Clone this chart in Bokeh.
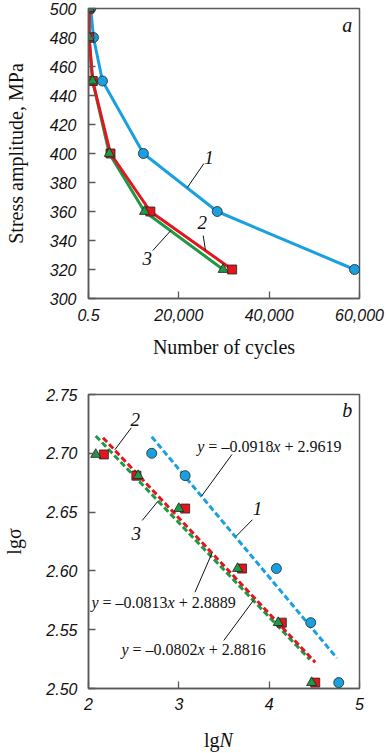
import numpy as np
from bokeh.plotting import figure
from bokeh.models import Range1d, FixedTicker, Label, Div
from bokeh.layouts import column
from bokeh.embed import file_html
from bokeh.resources import INLINE

# ---------------- Panel a data ----------------
stress_a = [500, 480, 450, 400, 360, 320]
cycles_1 = [500, 1100, 3100, 12150, 28500, 58900]
cycles_2 = [200, 150, 940, 4870, 13700, 31800]
cycles_3 = [150, 120, 900, 4600, 12400, 29800]
x_ticks_a = [0, 20000, 40000, 60000]
x_tick_labels_a = ["0.5", "20,000", "40,000", "60,000"]
y_ticks_a = [300, 320, 340, 360, 380, 400, 420, 440, 460, 480, 500]

# ---------------- Panel b data ----------------
lg_sigma_1 = [2.700, 2.681, 2.602, 2.556, 2.505]
lg_n_1 = [2.70, 3.07, 4.08, 4.46, 4.77]
lg_sigma_23 = [2.699, 2.681, 2.653, 2.602, 2.556, 2.505]
lg_n_2 = [2.17, 2.53, 3.07, 3.70, 4.14, 4.51]
lg_n_3 = [2.08, 2.55, 3.00, 3.65, 4.10, 4.47]
fit_slope = [-0.0918, -0.0813, -0.0802]
fit_intercept = [2.9619, 2.8889, 2.8816]
fit_x_start = [2.70, 2.16, 2.08]
fit_x_end = [4.75, 4.51, 4.45]
x_ticks_b = [2, 3, 4, 5]
y_ticks_b = [2.50, 2.55, 2.60, 2.65, 2.70, 2.75]
y_tick_labels_b = ["2.50", "2.55", "2.60", "2.65", "2.70", "2.75"]

# ---------------- Styles ----------------
BLUE = "#1AA0E0"
RED = "#E3161E"
GREEN = "#1E9A46"
EDGE = "#222222"
FRAME = "#5a5a5a"
TICK_FONT = "Liberation Sans"
SERIF = "Liberation Serif"
W = 387


def style(p):
    p.outline_line_color = FRAME
    p.outline_line_width = 1.5
    p.xgrid.visible = False
    p.ygrid.visible = False
    for ax in (p.xaxis[0], p.yaxis[0]):
        ax.axis_line_color = FRAME
        ax.axis_line_width = 1.5
        ax.major_tick_in = 7
        ax.major_tick_out = 0
        ax.major_tick_line_color = FRAME
        ax.major_tick_line_width = 1.3
        ax.minor_tick_line_color = None
        ax.major_label_text_font = TICK_FONT
        ax.major_label_text_font_style = "italic"
        ax.major_label_text_font_size = "16px"
        ax.major_label_text_color = "#111111"
        ax.axis_label_text_font = SERIF
        ax.axis_label_text_font_style = "normal"
        ax.axis_label_text_font_size = "20px"
        ax.axis_label_text_color = "#111111"
    p.background_fill_color = "white"
    p.border_fill_color = "white"


def txt(p, x, y, t, size="19px", style_="italic", align="center", xoff=0):
    p.add_layout(Label(x=x, y=y, text=t, text_font=SERIF, text_font_style=style_,
                       text_font_size=size, text_align=align, text_baseline="middle",
                       text_color="#111111", x_offset=xoff))


# ================= Panel a =================
pa = figure(width=W, height=368, output_backend="svg", toolbar_location=None,
            x_range=Range1d(0, 60000), y_range=Range1d(300, 500),
            min_border_left=85, min_border_right=28, min_border_top=8, min_border_bottom=70)
style(pa)
pa.xaxis.ticker = FixedTicker(ticks=x_ticks_a)
pa.xaxis.major_label_overrides = {t: l for t, l in zip(x_ticks_a, x_tick_labels_a)}
pa.yaxis.ticker = FixedTicker(ticks=y_ticks_a)
pa.xaxis.axis_label = "Number of cycles"
pa.yaxis.axis_label = "Stress amplitude, MPa"
pa.xaxis.major_label_standoff = 10
pa.xaxis.axis_label_standoff = 12
pa.yaxis.major_label_standoff = 12
pa.yaxis.axis_label_standoff = 20

pa.line(cycles_1, stress_a, line_color=BLUE, line_width=3)
pa.scatter(cycles_1, stress_a, marker="circle", size=10, fill_color=BLUE,
           line_color=EDGE, line_width=0.8)
pa.line(cycles_3, stress_a, line_color=GREEN, line_width=3)
pa.line(cycles_2, stress_a, line_color=RED, line_width=3)
pa.scatter(cycles_2, stress_a, marker="square", size=9, fill_color=RED,
           line_color=EDGE, line_width=0.8)
pa.scatter(cycles_3, stress_a, marker="triangle", size=10, fill_color=GREEN,
           line_color=EDGE, line_width=0.8)

# annotations a (label positions and leader lines)
lead_a = dict(x0=[25550, 25400, 14230], y0=[393.1, 343.4, 333.1],
              x1=[21900, 25900, 18240], y1=[376.6, 333.1, 346.9])
pa.segment(x0=lead_a["x0"], y0=lead_a["y0"], x1=lead_a["x1"], y1=lead_a["y1"],
           line_color="#111111", line_width=1)
txt(pa, 57300, 488.3, "a", size="20px")
txt(pa, 26700, 397.2, "1")
txt(pa, 25180, 352.6, "2")
txt(pa, 12990, 327.4, "3")

# ================= Panel b =================
pb = figure(width=W, height=362, output_backend="svg", toolbar_location=None,
            x_range=Range1d(2, 5), y_range=Range1d(2.50, 2.75),
            min_border_left=85, min_border_right=28, min_border_top=26, min_border_bottom=42)
style(pb)
pb.xaxis.ticker = FixedTicker(ticks=x_ticks_b)
pb.yaxis.ticker = FixedTicker(ticks=y_ticks_b)
pb.yaxis.major_label_overrides = {t: l for t, l in zip(y_ticks_b, y_tick_labels_b)}
pb.yaxis.axis_label = "lgσ"
pb.xaxis.major_label_standoff = 9
pb.yaxis.major_label_standoff = 11
pb.yaxis.axis_label_standoff = 18

# fit lines: blue, green, red
fit_colors = [BLUE, RED, GREEN]
for i in [0, 2, 1]:
    xs = np.array([fit_x_start[i], fit_x_end[i]])
    ys = fit_slope[i] * xs + fit_intercept[i]
    pb.line(xs, ys, line_color=fit_colors[i], line_width=3, line_dash="6 3")

pb.scatter(lg_n_1, lg_sigma_1, marker="circle", size=10, fill_color=BLUE,
           line_color=EDGE, line_width=0.8)
pb.scatter(lg_n_2, lg_sigma_23, marker="square", size=9, fill_color=RED,
           line_color=EDGE, line_width=0.8)
pb.scatter(lg_n_3, lg_sigma_23, marker="triangle", size=10, fill_color=GREEN,
           line_color=EDGE, line_width=0.8)

lead_b = dict(x0=[2.474, 3.588, 3.814, 2.595, 3.179, 3.497],
              y0=[2.7217, 2.699, 2.6435, 2.6429, 2.5819, 2.5408],
              x1=[2.292, 3.251, 3.635, 2.766, 3.369, 3.825],
              y1=[2.703, 2.6635, 2.6295, 2.659, 2.6155, 2.5748])
pb.segment(x0=lead_b["x0"], y0=lead_b["y0"], x1=lead_b["x1"], y1=lead_b["y1"],
           line_color="#111111", line_width=1)
txt(pb, 4.865, 2.7364, "b", size="20px")
txt(pb, 2.518, 2.7285, "2")
txt(pb, 3.872, 2.6533, "1")
txt(pb, 2.529, 2.632, "3")


def equation(p, x, y, slope, icpt):
    parts = [("y", "italic", 0.0),
             ("= \u2013%.4f" % abs(slope), "normal", 11.1),
             ("x", "italic", 76.1),
             ("+ %.4f" % icpt, "normal", 87.2)]
    for t, st, off in parts:
        txt(p, x, y, t, size="16px", style_=st, align="left", xoff=off)


equation(pb, 3.204, 2.7058, fit_slope[0], fit_intercept[0])
equation(pb, 2.033, 2.5734, fit_slope[1], fit_intercept[1])
equation(pb, 2.365, 2.5329, fit_slope[2], fit_intercept[2])

# ---------------- x-axis title of panel b: "lg" + italic "N" ----------------
x_title_b = ("<div style=\"font-family:'Liberation Serif'; font-size:20px; line-height:20px; "
             "color:#111111; padding-left:204px; white-space:nowrap;\">lg<i>N</i></div>")
pl = Div(text=x_title_b, width=W, height=22, margin=0)

layout = column(pa, pb, pl, spacing=0)
open("out.html", "w").write(file_html(layout, INLINE))
